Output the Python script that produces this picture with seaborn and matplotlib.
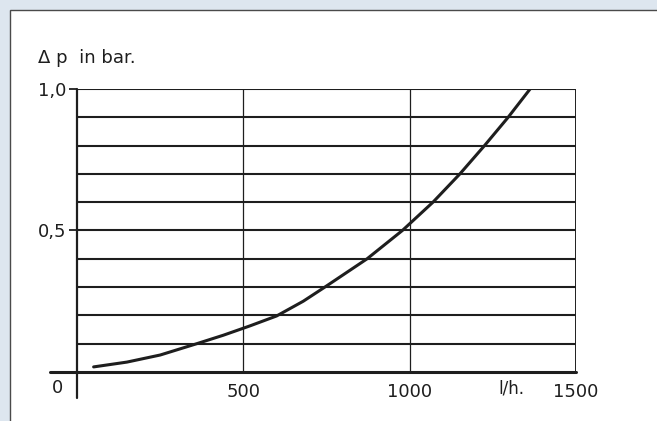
import matplotlib.pyplot as plt
import seaborn as sns
import numpy as np
from matplotlib.patches import Rectangle

sns.set_style("white")
plt.rcParams['font.family'] = ['DejaVu Sans']

# ------------------------------
# Data
# ------------------------------
flow = [50, 150, 250, 360, 440, 520, 600, 680, 745, 872, 978, 1070, 1151,
        1225, 1296, 1362]
pressure_drop = [0.018, 0.035, 0.06, 0.10, 0.13, 0.163, 0.198, 0.25, 0.30,
                 0.40, 0.50, 0.60, 0.70, 0.80, 0.90, 1.0]

grid_y = [0.1, 0.2, 0.3, 0.4, 0.5, 0.6, 0.7, 0.8, 0.9, 1.0]
grid_x = [500, 1000]
x_ticks = [500, 1000, 1500]
y_ticks = [0.5, 1.0]
y_tick_labels = ["0,5", "1,0"]

ink = "#1e1e1e"

fig = plt.figure(figsize=(6.57, 4.21), dpi=100)
fig.patch.set_facecolor("#dde6ef")

# white panel with a thin border, running off the right and bottom edges
fig.patches.append(Rectangle((10 / 657, -0.5), 2, 1.5 - 10 / 421,
                             transform=fig.transFigure, facecolor="white",
                             edgecolor="#4a4a4a", lw=1.0, zorder=-5))

ax = fig.add_axes([77 / 657, 1 - 372 / 421, 499 / 657, 283 / 421])
ax.set_facecolor("none")
ax.set_zorder(1)

for y in grid_y:
    ax.axhline(y, color=ink, lw=1.5, zorder=1)
for x in grid_x:
    ax.axvline(x, color=ink, lw=0.9, zorder=1)
ax.axvline(1500, color=ink, lw=1.4, zorder=1)

# axis lines that run past the frame
ax.plot([0, 0], [-0.092, 1.0], color=ink, lw=1.6, clip_on=False, zorder=2)
ax.plot([-81, 1500], [0, 0], color=ink, lw=2.2, clip_on=False, zorder=2)

sns.lineplot(x=flow, y=pressure_drop, ax=ax, color=ink, lw=2.2, zorder=3)

for s in ax.spines.values():
    s.set_visible(False)

ax.set_xlim(0, 1500)
ax.set_ylim(0, 1.0)
ax.set_xticks(x_ticks)
ax.set_xticklabels([str(v) for v in x_ticks], fontsize=13, color=ink)
ax.set_yticks(y_ticks)
ax.set_yticklabels(y_tick_labels, fontsize=13, color=ink)
ax.tick_params(axis="x", length=0, pad=8)
ax.tick_params(axis="y", length=6, width=1.3, color=ink, pad=2, left=True)

ax.text(-60, -0.058, "0", ha="center", va="center", fontsize=13, color=ink)
ax.text(1305, -0.058, "l/h.", ha="center", va="center", fontsize=12, color=ink)
ax.text(-117, 1.11, "Δ p  in bar.", ha="left", va="center", fontsize=13, color=ink)

fig.savefig("out.png", dpi=100, facecolor=fig.get_facecolor())
